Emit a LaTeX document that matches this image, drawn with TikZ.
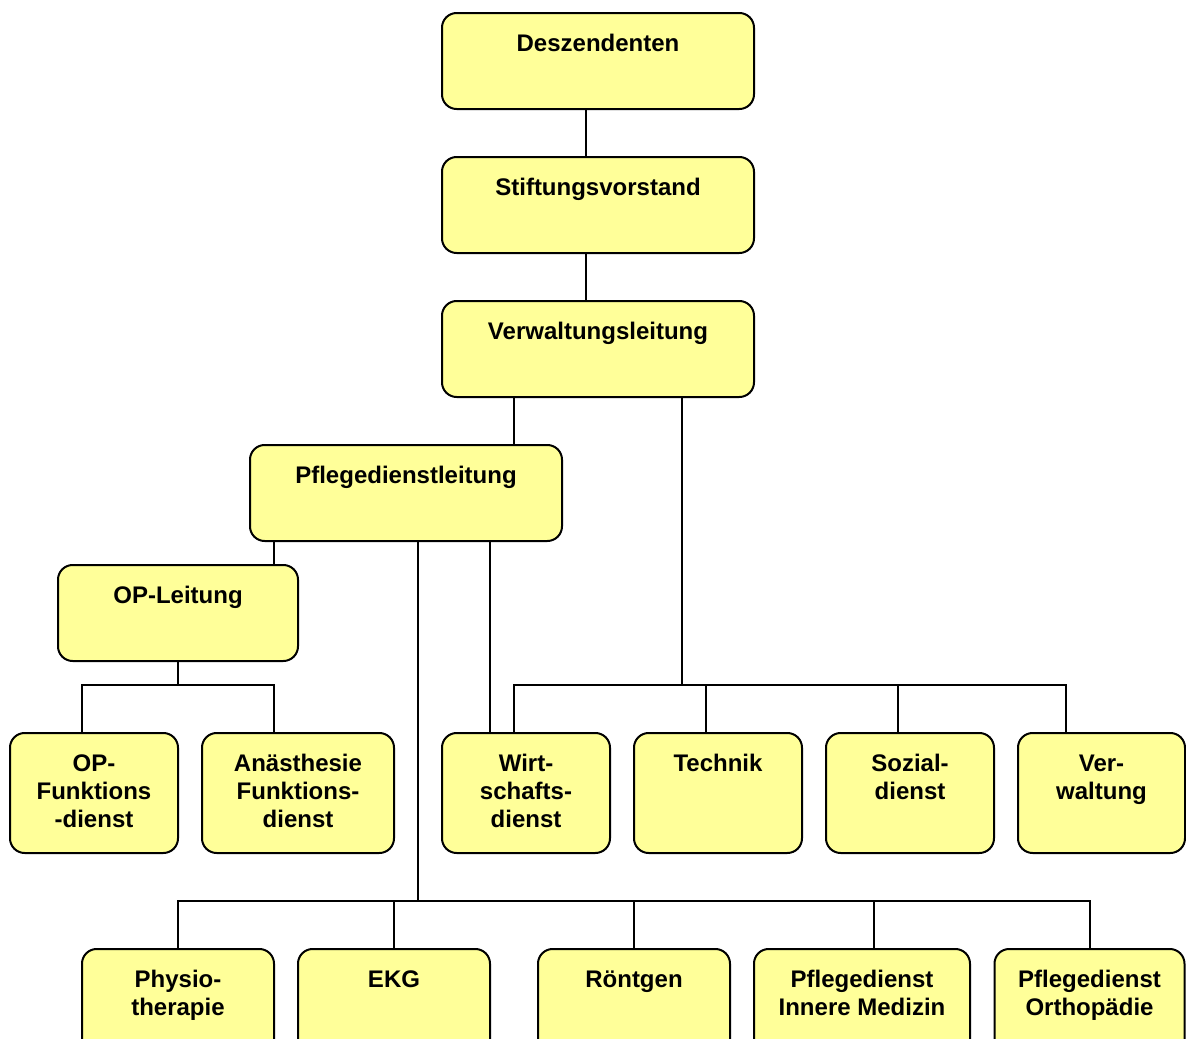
\documentclass[tikz,border=0pt]{standalone}
\usepackage{fontspec}
\setmainfont{Liberation Sans}
\definecolor{boxfill}{HTML}{FFFF99}
\newcommand\bxtext[3]{\parbox[c][#2][t]{#1}{\centering\rule{0pt}{28.9pt}#3}}
\tikzset{
  orgbox/.style={draw=black, line width=1.5pt, fill=boxfill, rounded corners=11pt,
    inner sep=0pt, outer sep=0pt, font=\bfseries\fontsize{18pt}{21pt}\selectfont},
  link/.style={draw=black, line width=1.5pt}
}
\begin{document}
\begin{tikzpicture}[x=0.75pt,y=-0.75pt]
\useasboundingbox (0,0) rectangle (1186,1039);
\clip (0,0) rectangle (1186,1039);
% top chain
\node[orgbox] (desz) at (598,61) {\bxtext{234pt}{72pt}{Deszendenten}};
\node[orgbox] (stif) at (598,205) {\bxtext{234pt}{72pt}{Stiftungsvorstand}};
\node[orgbox] (verw) at (598,349) {\bxtext{234pt}{72pt}{Verwaltungsleitung}};
\node[orgbox] (pfl) at (406,493) {\bxtext{234pt}{72pt}{Pflegedienstleitung}};
\node[orgbox] (opl) at (178,613) {\bxtext{180pt}{72pt}{OP-Leitung}};
% middle row
\node[orgbox] (opf) at (94,793) {\bxtext{126pt}{90pt}{OP-\\Funktions\\-dienst}};
\node[orgbox] (anae) at (298,793) {\bxtext{144pt}{90pt}{Anästhesie\\Funktions-\\dienst}};
\node[orgbox] (wirt) at (526,793) {\bxtext{126pt}{90pt}{Wirt-\\schafts-\\dienst}};
\node[orgbox] (tech) at (718,793) {\bxtext{126pt}{90pt}{Technik}};
\node[orgbox] (sozi) at (910,793) {\bxtext{126pt}{90pt}{Sozial-\\dienst}};
\node[orgbox] (verwa) at (1101.5,793) {\bxtext{125.25pt}{90pt}{Ver-\\waltung}};
% bottom row
\node[orgbox] (phys) at (178,1009) {\bxtext{144pt}{90pt}{Physio-\\therapie}};
\node[orgbox] (ekg) at (394,1009) {\bxtext{144pt}{90pt}{EKG}};
\node[orgbox] (roent) at (634,1009) {\bxtext{144pt}{90pt}{Röntgen}};
\node[orgbox] (inner) at (862,1009) {\bxtext{162pt}{90pt}{Pflegedienst\\Innere Medizin}};
\node[orgbox] (orth) at (1089.5,1009) {\bxtext{142.5pt}{90pt}{Pflegedienst\\Orthopädie}};
% bus levels
\coordinate (busA) at (0,685);
\coordinate (busB) at (0,901);
% connectors
\draw[link] ([xshift=-9pt]desz.south) -- ([xshift=-9pt]stif.north);
\draw[link] ([xshift=-9pt]stif.south) -- ([xshift=-9pt]verw.north);
\draw[link] ([xshift=-63pt]verw.south) -- ([xshift=-63pt]verw.south |- pfl.north);
\draw[link] ([xshift=63pt]verw.south) -- ([xshift=63pt]verw.south |- busA);
\draw[link] ([xshift=-9pt]wirt.north) |- ([xshift=-27pt]verwa.north |- busA) -- ([xshift=-27pt]verwa.north);
\draw[link] ([xshift=-9pt]tech.north) -- ([xshift=-9pt]tech.north |- busA);
\draw[link] ([xshift=-9pt]sozi.north) -- ([xshift=-9pt]sozi.north |- busA);
\draw[link] ([xshift=-99pt]pfl.south) -- ([xshift=-99pt]pfl.south |- opl.north);
\draw[link] ([xshift=63pt]pfl.south) -- ([xshift=63pt]pfl.south |- wirt.north);
\draw[link] (opl.south) -- (opl.south |- busA);
\draw[link] ([xshift=-9pt]opf.north) |- ([xshift=-18pt]anae.north |- busA) -- ([xshift=-18pt]anae.north);
\draw[link] ([xshift=9pt]pfl.south) -- ([xshift=9pt]pfl.south |- busB);
\draw[link] (phys.north) |- ([xshift=0.375pt]orth.north |- busB) -- ([xshift=0.375pt]orth.north);
\draw[link] (ekg.north) -- (ekg.north |- busB);
\draw[link] (roent.north) -- (roent.north |- busB);
\draw[link] ([xshift=9pt]inner.north) -- ([xshift=9pt]inner.north |- busB);
\end{tikzpicture}
\end{document}
